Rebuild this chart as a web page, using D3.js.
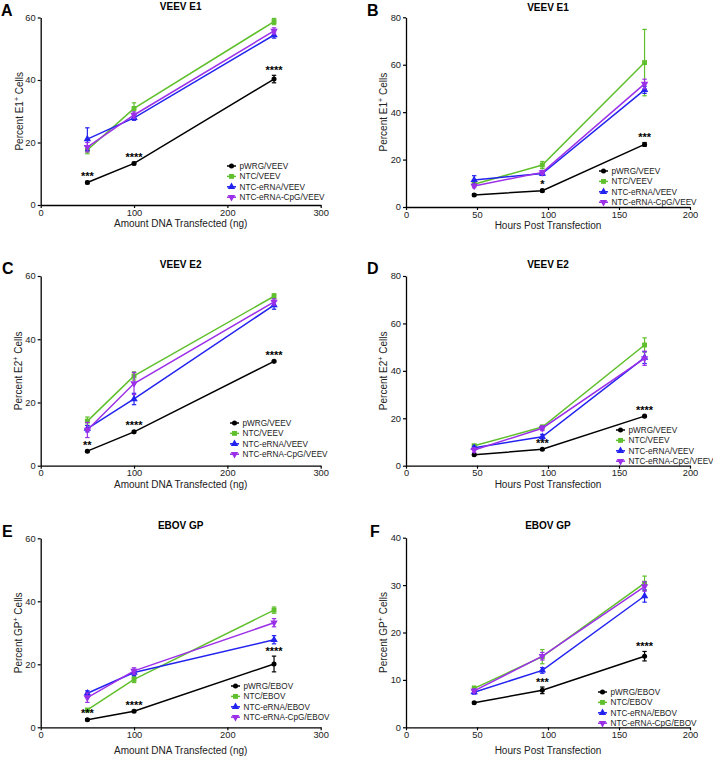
<!DOCTYPE html>
<html><head><meta charset="utf-8">
<script src="https://cdn.jsdelivr.net/npm/d3@7"></script>
<style>body{margin:0;background:#fff}svg{display:block}text{font-family:"Liberation Sans",Arial,sans-serif}</style>
</head><body><svg id="c" width="713" height="757"></svg>
<script>
// ---------- data ----------
const doseX = [50, 100, 250];
const hoursX = [48, 96, 168];
const seriesKeys = ["pWRG", "NTC", "NTC-eRNA", "NTC-eRNA-CpG"];
const seriesColors = ["#000000", "#5fbf2c", "#2323f0", "#9b30e8"];
const seriesShapes = ["circle", "square", "triangle", "triangleDown"];

const doseTicks = [0, 100, 200, 300];
const hoursTicks = [0, 50, 100, 150, 200];
const ticks60 = [0, 20, 40, 60];
const ticks80 = [0, 20, 40, 60, 80];
const ticks40 = [0, 10, 20, 30, 40];

// Panel A: VEEV E1 vs dose
const aMeans = [[7.2, 13.3, 40.3], [17.6, 30.9, 58.7], [21.1, 27.9, 54.4], [18.5, 28.8, 55.7]];
const aErrs  = [[0.4, 0.4, 1.2], [1.2, 1.8, 1.0], [3.6, 0.8, 1.0], [1.5, 1.0, 1.0]];
const aSig   = ["***", "****", "****"];
// Panel B: VEEV E1 vs hours
const bMeans = [[5.1, 6.9, 26.4], [9.6, 17.7, 60.9], [11.4, 14.1, 49.4], [8.9, 14.6, 51.9]];
const bErrs  = [[0.5, 0.5, 0.8], [0.8, 1.5, 14.0], [1.8, 0.8, 1.5], [0.8, 0.8, 2.0]];
const bSig   = ["", "*", "***"];
// Panel C: VEEV E2 vs dose
const cMeans = [[4.6, 10.7, 33.0], [14.1, 28.4, 53.6], [11.7, 21.1, 50.8], [11.3, 26.0, 51.8]];
const cErrs  = [[0.3, 0.3, 0.3], [1.3, 1.3, 0.8], [1.0, 1.8, 1.3], [2.4, 3.5, 1.0]];
const cSig   = ["**", "****", "****"];
// Panel D: VEEV E2 vs hours
const dMeans = [[4.6, 6.9, 20.9], [8.4, 16.3, 50.9], [7.6, 12.2, 45.6], [6.6, 15.8, 45.3]];
const dErrs  = [[0.3, 0.3, 0.3], [0.6, 0.8, 3.0], [0.6, 1.0, 2.5], [1.0, 1.0, 3.0]];
const dSig   = ["", "***", "****"];
// Panel E: EBOV GP vs dose
const eMeans = [[2.4, 5.1, 20.1], [5.5, 15.2, 37.2], [10.8, 17.4, 27.8], [9.4, 17.9, 33.2]];
const eErrs  = [[0.3, 0.3, 2.5], [0.4, 1.0, 1.0], [0.8, 1.0, 1.3], [1.5, 1.0, 1.3]];
const eSig   = ["***", "****", "****"];
// Panel F: EBOV GP vs hours
const fMeans = [[5.2, 7.8, 15.0], [8.2, 14.9, 30.4], [7.4, 12.0, 27.7], [7.7, 15.0, 29.7]];
const fErrs  = [[0.2, 0.7, 1.0], [0.5, 1.5, 1.5], [0.4, 0.6, 1.3], [0.4, 0.8, 1.0]];
const fSig   = ["", "***", "****"];

// ---------- layout ----------
const panels = [
  {letter:"A", title:"VEEV E1", virus:"VEEV", ylab:["Percent E1","+"," Cells"], xlab:"Amount DNA Transfected (ng)",
   x:doseX, xDom:[0,300], xT:doseTicks, yDom:[0,60], yT:ticks60, means:aMeans, errs:aErrs, sig:aSig,
   L:40.7, R:320.7, T:17.5, B:205, titleY:6, letterX:1, letterY:10, ylabX:19, xlabY:223, legX:227, legY:166},
  {letter:"B", title:"VEEV E1", virus:"VEEV", ylab:["Percent E1","+"," Cells"], xlab:"Hours Post Transfection",
   x:hoursX, xDom:[0,200], xT:hoursTicks, yDom:[0,80], yT:ticks80, means:bMeans, errs:bErrs, sig:bSig,
   L:406, R:690, T:17.3, B:207, titleY:7, letterX:367, letterY:10, ylabX:383, xlabY:225, legX:599, legY:171},
  {letter:"C", title:"VEEV E2", virus:"VEEV", ylab:["Percent E2","+"," Cells"], xlab:"Amount DNA Transfected (ng)",
   x:doseX, xDom:[0,300], xT:doseTicks, yDom:[0,60], yT:ticks60, means:cMeans, errs:cErrs, sig:cSig,
   L:40.7, R:320.7, T:276, B:465.7, titleY:264, letterX:2, letterY:268, ylabX:18.5, xlabY:484, legX:230, legY:423},
  {letter:"D", title:"VEEV E2", virus:"VEEV", ylab:["Percent E2","+"," Cells"], xlab:"Hours Post Transfection",
   x:hoursX, xDom:[0,200], xT:hoursTicks, yDom:[0,80], yT:ticks80, means:dMeans, errs:dErrs, sig:dSig,
   L:406, R:690, T:276, B:465.7, titleY:264, letterX:367, letterY:268, ylabX:383, xlabY:484, legX:616, legY:430},
  {letter:"E", title:"EBOV GP", virus:"EBOV", ylab:["Percent GP","+"," Cells"], xlab:"Amount DNA Transfected (ng)",
   x:doseX, xDom:[0,300], xT:doseTicks, yDom:[0,60], yT:ticks60, means:eMeans, errs:eErrs, sig:eSig,
   L:40.7, R:320.7, T:538.3, B:727.3, titleY:525, letterX:2, letterY:531, ylabX:18.5, xlabY:750, legX:231, legY:686},
  {letter:"F", title:"EBOV GP", virus:"EBOV", ylab:["Percent GP","+"," Cells"], xlab:"Hours Post Transfection",
   x:hoursX, xDom:[0,200], xT:hoursTicks, yDom:[0,40], yT:ticks40, means:fMeans, errs:fErrs, sig:fSig,
   L:406, R:690, T:537.7, B:727.3, titleY:525, letterX:370, letterY:531, ylabX:383, xlabY:750, legX:598, legY:692}
];

const svg = d3.select("#c");

function symPath(shape, size) {
  if (shape === "circle") return d3.symbol(d3.symbolCircle, size)();
  if (shape === "square") return d3.symbol(d3.symbolSquare, size)();
  return d3.symbol(d3.symbolTriangle, size)();
}
const symSizes = {circle: 20, square: 24, triangle: 24, triangleDown: 24};
function drawMarker(g, shape, color, cx, cy) {
  g.append("path").attr("d", symPath(shape, symSizes[shape]))
    .attr("transform", `translate(${cx},${cy})` + (shape === "triangleDown" ? " rotate(180)" : ""))
    .attr("fill", color);
}

panels.forEach(p => {
  const g = svg.append("g");
  const xs = d3.scaleLinear().domain(p.xDom).range([p.L, p.R]);
  const ys = d3.scaleLinear().domain(p.yDom).range([p.B, p.T]);

  // axes
  const xa = g.append("g").attr("transform", `translate(0,${p.B})`)
    .call(d3.axisBottom(xs).tickValues(p.xT).tickSize(3).tickSizeOuter(0).tickPadding(1));
  const ya = g.append("g").attr("transform", `translate(${p.L},0)`)
    .call(d3.axisLeft(ys).tickValues(p.yT).tickSize(3).tickSizeOuter(0).tickPadding(2));
  [xa, ya].forEach(a => {
    a.select(".domain").attr("stroke", "#000").attr("stroke-width", 1.3);
    a.selectAll(".tick line").attr("stroke", "#000").attr("stroke-width", 1.2);
    a.selectAll(".tick text").attr("font-size", 9.3).attr("fill", "#222")
      .style("font-family", '"Liberation Sans", Arial, sans-serif');
  });

  // titles
  g.append("text").attr("x", (p.L + p.R) / 2).attr("y", p.titleY).attr("dy", "0.35em")
    .attr("text-anchor", "middle").attr("font-size", 10).attr("font-weight", "bold").text(p.title);
  g.append("text").attr("x", p.letterX).attr("y", p.letterY).attr("dy", "0.36em")
    .attr("font-size", 16).attr("font-weight", "bold").text(p.letter);
  g.append("text").attr("x", (p.L + p.R) / 2).attr("y", p.xlabY).attr("dy", "0.35em")
    .attr("text-anchor", "middle").attr("font-size", 10).attr("fill", "#222").text(p.xlab);
  const yl = g.append("text").attr("transform", `translate(${p.ylabX},${(p.T + p.B) / 2}) rotate(-90)`)
    .attr("text-anchor", "middle").attr("dy", "0.35em").attr("font-size", 10).attr("fill", "#222");
  yl.append("tspan").text(p.ylab[0]);
  yl.append("tspan").attr("font-size", 7).attr("dy", "-4").text(p.ylab[1]);
  yl.append("tspan").attr("dy", "4").text(p.ylab[2]);

  // series: lines, error bars, markers
  seriesKeys.forEach((k, si) => {
    const col = seriesColors[si];
    const pts = p.x.map((xv, i) => ({x: xv, y: p.means[si][i], e: p.errs[si][i]}));
    g.append("path").datum(pts)
      .attr("d", d3.line().x(d => xs(d.x)).y(d => ys(d.y)))
      .attr("fill", "none").attr("stroke", col).attr("stroke-width", 1.5);
    pts.forEach(d => {
      const cx = xs(d.x), y1 = ys(d.y + d.e), y2 = ys(d.y - d.e);
      g.append("line").attr("x1", cx).attr("x2", cx).attr("y1", y1).attr("y2", y2)
        .attr("stroke", col).attr("stroke-width", 1.2);
      [y1, y2].forEach(yy => g.append("line").attr("x1", cx - 2.2).attr("x2", cx + 2.2)
        .attr("y1", yy).attr("y2", yy).attr("stroke", col).attr("stroke-width", 1.2));
      drawMarker(g, seriesShapes[si], col, cx, ys(d.y));
    });
  });

  // significance asterisks above pWRG points
  p.sig.forEach((s, i) => {
    if (!s) return;
    const top = ys(p.means[0][i] + p.errs[0][i]);
    g.append("text").attr("x", xs(p.x[i])).attr("y", top - 1.5)
      .attr("text-anchor", "middle").attr("font-size", 11).attr("font-weight", "bold").text(s);
  });

  // legend
  seriesKeys.forEach((k, si) => {
    const yy = p.legY + si * 10.4;
    const col = seriesColors[si];
    g.append("line").attr("x1", p.legX).attr("x2", p.legX + 9).attr("y1", yy).attr("y2", yy)
      .attr("stroke", col).attr("stroke-width", 1.5);
    drawMarker(g, seriesShapes[si], col, p.legX + 4.5, yy);
    g.append("text").attr("x", p.legX + 12.5).attr("y", yy).attr("dy", "0.35em")
      .attr("font-size", 8.2).attr("fill", "#222").text(k + "/" + p.virus);
  });
});
</script></body></html>
